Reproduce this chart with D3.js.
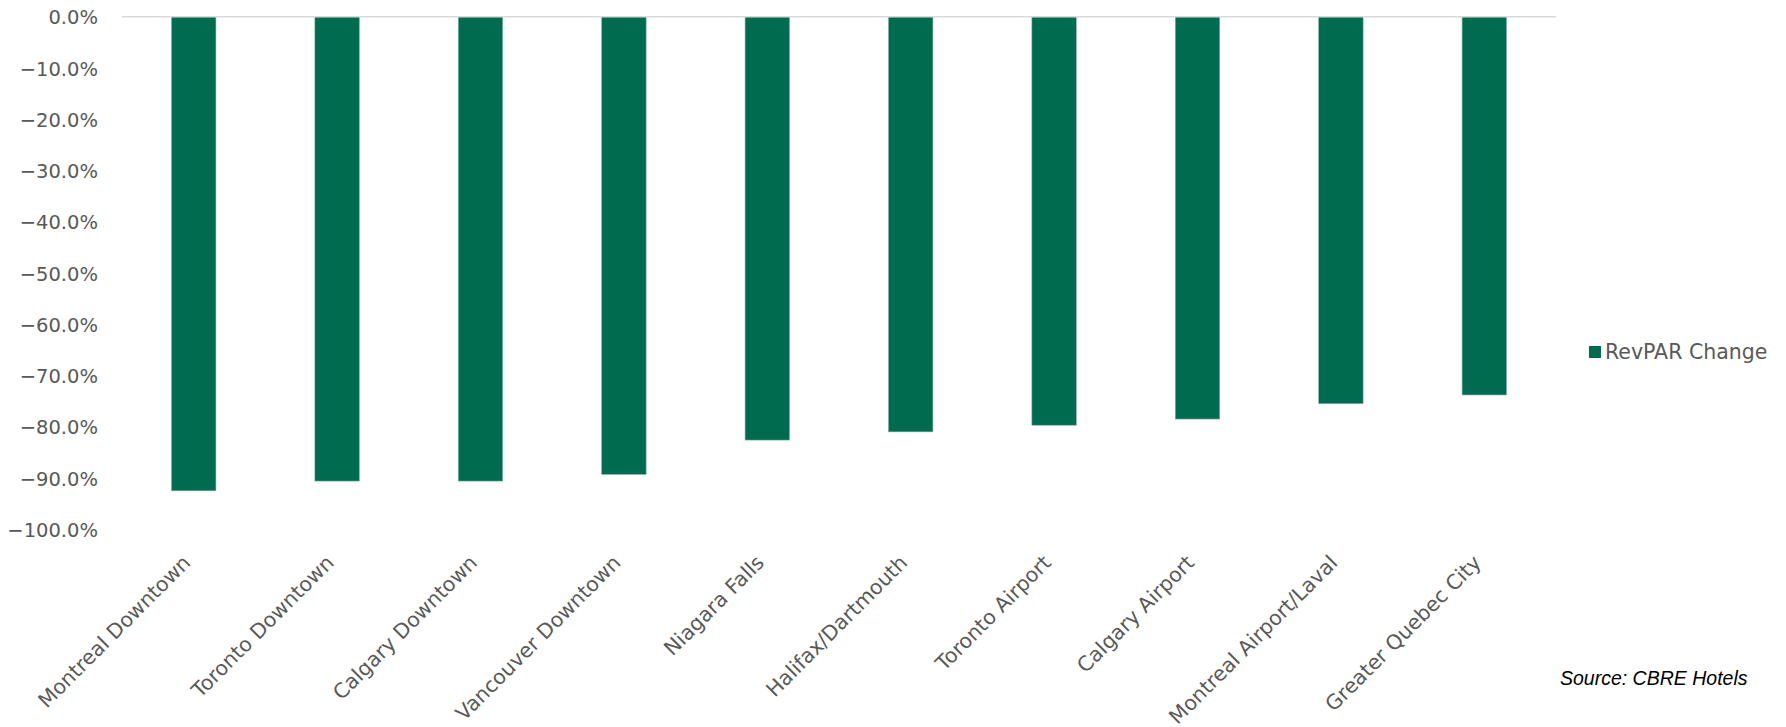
<!DOCTYPE html>
<html lang="en">
<head>
    <meta charset="UTF-8">
    <title>RevPAR Change by Market</title>
    <script src="https://d3js.org/d3.v7.min.js"></script>
    <style>
        html, body { margin: 0; padding: 0; background: #fff; }
        svg { display: block; }
        .tick-label { font-family: "DejaVu Sans", sans-serif; font-size: 19.5px; fill: #595959; }
        .cat-label { font-family: "DejaVu Sans", sans-serif; font-size: 20.5px; fill: #595959; }
        .legend-label { font-family: "DejaVu Sans", sans-serif; font-size: 20.5px; fill: #595959; }
        .source { font-family: "Liberation Sans", sans-serif; font-style: italic; font-size: 19.5px; fill: #000; }
    </style>
</head>
<body>
    <div id="chart"></div>

    <script>
        // Markets and RevPAR change (%)
        const markets = [
            "Montreal Downtown",
            "Toronto Downtown",
            "Calgary Downtown",
            "Vancouver Downtown",
            "Niagara Falls",
            "Halifax/Dartmouth",
            "Toronto Airport",
            "Calgary Airport",
            "Montreal Airport/Laval",
            "Greater Quebec City"
        ];
        const revparChange = [-92.5, -90.6, -90.6, -89.3, -82.6, -81.0, -79.7, -78.5, -75.5, -73.8];
        const yTicks = [0, -10, -20, -30, -40, -50, -60, -70, -80, -90, -100];
        const seriesName = "RevPAR Change";
        const sourceNote = "Source: CBRE Hotels";

        const width = 1786, height = 727;
        const margin = { top: 16.75, left: 122, right: 230, bottom: 198 };
        const barColor = "#006b4e";

        const svg = d3.select("#chart")
            .append("svg")
            .attr("width", width)
            .attr("height", height);

        const x = d3.scaleBand()
            .domain(markets)
            .range([margin.left, width - margin.right])
            .paddingInner(0.69)
            .paddingOuter(0.345);

        const y = d3.scaleLinear()
            .domain([-100, 0])
            .range([margin.top + 512.5, margin.top]);

        // Axe Y (labels only)
        const yAxis = svg.append("g")
            .attr("transform", `translate(${margin.left - 24},0)`)
            .call(d3.axisLeft(y).tickValues(yTicks).tickSize(0).tickPadding(0)
                .tickFormat(d => d3.format(".1f")(d) + "%"));
        yAxis.select(".domain").remove();
        yAxis.selectAll("text")
            .attr("class", "tick-label")
            .attr("dy", "0.36em")
            .attr("font-family", null)
            .attr("font-size", null)
            .attr("fill", null);

        // Barres
        svg.append("g")
            .selectAll("rect")
            .data(revparChange)
            .join("rect")
            .attr("x", (d, i) => x(markets[i]))
            .attr("y", y(0))
            .attr("width", x.bandwidth())
            .attr("height", d => y(d) - y(0))
            .attr("fill", barColor)
            .attr("stroke", "#7fb5a6")
            .attr("stroke-width", 0.6);

        // Ligne zéro
        svg.append("line")
            .attr("x1", margin.left)
            .attr("x2", width - margin.right)
            .attr("y1", y(0))
            .attr("y2", y(0))
            .attr("stroke", "#d9d9d9")
            .attr("stroke-width", 1.5);

        // Libellés des catégories (rotation -45)
        svg.append("g")
            .selectAll("text")
            .data(markets)
            .join("text")
            .attr("class", "cat-label")
            .attr("text-anchor", "end")
            .attr("transform", d => `translate(${x(d) + x.bandwidth() / 2 - 2},564) rotate(-45)`)
            .text(d => d);

        // Légende
        const legend = svg.append("g").attr("transform", "translate(1589,346)");
        legend.append("rect")
            .attr("width", 12)
            .attr("height", 12)
            .attr("fill", barColor);
        legend.append("text")
            .attr("class", "legend-label")
            .attr("x", 16)
            .attr("y", 13)
            .text(seriesName);

        // Source
        svg.append("text")
            .attr("class", "source")
            .attr("x", 1560)
            .attr("y", 685)
            .text(sourceNote);
    </script>
</body>
</html>
